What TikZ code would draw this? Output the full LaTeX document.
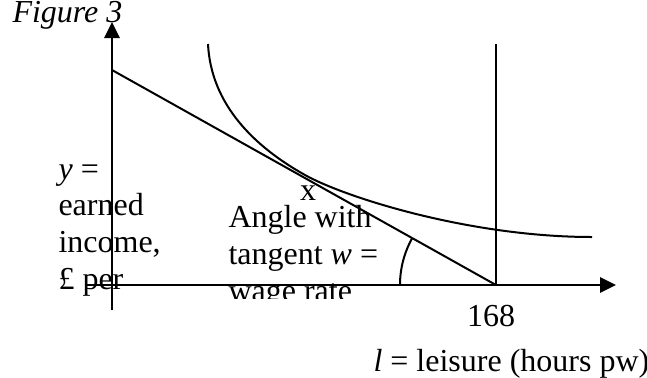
\documentclass[tikz,border=0pt]{standalone}
\usepackage{fontspec}
\setmainfont{Liberation Serif}
\usetikzlibrary{arrows.meta}

\begin{document}
\begin{tikzpicture}[
			x=0.375pt, y=-0.375pt,
			axis/.style={line width=1.1pt, -{Triangle[length=6pt, width=5.6pt]}},
			line/.style={line width=0.75pt},
			lbl/.style={inner sep=0pt, anchor=base west, align=left, font=\fontsize{12}{13.8}\selectfont}
			]
			\useasboundingbox (0,0) rectangle (647,377);
			
			% Titolo
			\node[lbl] (fig) at (12,22) {\textit{Figure 3}};
			
			% Etichette (caselle di testo tagliate in basso)
			\begin{scope}
				\clip (40,150) rectangle (200,298);
				\node[lbl] (ylab) at (58,289.5) {\textit{y} =\\ earned\\ income,\\ \pounds\ per};
			\end{scope}
			\begin{scope}
				\clip (220,190) rectangle (420,298);
				\node[lbl] (angle) at (228,301) {Angle with\\ tangent \textit{w} =\\ wage rate};
			\end{scope}
			\node[lbl, anchor=base] (tang) at (308,200) {x};
			\node[lbl, anchor=base] (hours) at (491,326) {168};
			\node[lbl] (xlab) at (373,371) {\textit{l} = leisure (hours pw)};
			
			% Punti principali
			\coordinate (O) at (112,285);
			\coordinate (ybot) at (112,310);
			\coordinate (ytop) at (112,22);
			\coordinate (xleft) at (86,285);
			\coordinate (xright) at (616,285);
			\coordinate (B) at (112,70);
			\coordinate (L) at (496,285);
			\coordinate (Ltop) at (496,44);
			\coordinate (T) at (305,175);
			\coordinate (arcstart) at (400,285);
			
			% Assi
			\draw[axis] (ybot) -- (ytop);
			\draw[axis] (xleft) -- (xright);
			
			% Vincolo di bilancio e limite delle 168 ore
			\draw[line] (B) -- (L);
			\draw[line] (Ltop) -- (L);
			
			% Curva di indifferenza
			\draw[line] (208,44) .. controls (211,105) and (255,147) .. (T)
				.. controls (345,197.4) and (470,237) .. (592,237);
			
			% Angolo
			\draw[line] (arcstart) arc[start angle=180, end angle=209, radius=96];
			
		\end{tikzpicture}
\end{document}
